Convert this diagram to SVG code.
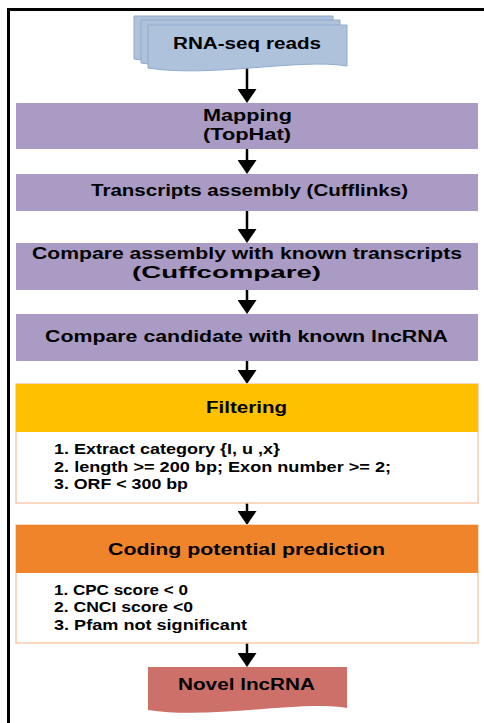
<svg xmlns="http://www.w3.org/2000/svg" width="484" height="723" viewBox="0 0 484 723">
<style>
.t{font-family:"Liberation Sans",Arial,sans-serif;font-weight:700;fill:#000;}
.h{font-size:16px;text-anchor:middle;}
.l{font-size:14px;}
.purple{fill:#A99BC3;}
.doc{fill:#AEC2DC;stroke:#8FAACE;stroke-width:1;}
.conn{stroke:#000;stroke-width:2.5;fill:none;}
</style>
<defs>
<marker id="ah" markerUnits="userSpaceOnUse" markerWidth="14" markerHeight="19" refX="6" refY="9.5" orient="auto">
<path d="M0,0 L14,9.5 L0,19 Z" fill="#000"/>
</marker>
</defs>
<rect width="484" height="723" fill="#fff"/>
<path d="M8.5,723 V9.5 H484" fill="none" stroke="#000" stroke-width="3"/>

<g id="connectors">
<line class="conn" x1="247" y1="67" x2="247" y2="95" marker-end="url(#ah)"/>
<line class="conn" x1="247" y1="149" x2="247" y2="166" marker-end="url(#ah)"/>
<line class="conn" x1="247" y1="211" x2="247" y2="235" marker-end="url(#ah)"/>
<line class="conn" x1="247" y1="290" x2="247" y2="306" marker-end="url(#ah)"/>
<line class="conn" x1="247" y1="361" x2="247" y2="376" marker-end="url(#ah)"/>
<line class="conn" x1="247" y1="503" x2="247" y2="517" marker-end="url(#ah)"/>
<line class="conn" x1="247" y1="643" x2="247" y2="659" marker-end="url(#ah)"/>
</g>

<g id="rnaseq">
<path class="doc" d="M134,16 H333 V57 C286,49 196,69 134,59 Z"/>
<path class="doc" d="M141,20 H340 V61 C293,53 203,73 141,63 Z"/>
<path class="doc" d="M148,25 H347 V66 C300,58 210,78 148,68 Z"/>
<text class="t h" x="247" y="49" textLength="148" lengthAdjust="spacingAndGlyphs">RNA-seq reads</text>
</g>

<g id="mapping">
<rect class="purple" x="16" y="103" width="462" height="46"/>
<text class="t h" x="247.5" y="121" textLength="89" lengthAdjust="spacingAndGlyphs">Mapping</text>
<text class="t h" x="247" y="140" textLength="88" lengthAdjust="spacingAndGlyphs">(TopHat)</text>
</g>

<g id="assembly">
<rect class="purple" x="16" y="174" width="462" height="37"/>
<text class="t h" x="249.5" y="196" textLength="317" lengthAdjust="spacingAndGlyphs">Transcripts assembly (Cufflinks)</text>
</g>

<g id="compare1">
<rect class="purple" x="16" y="243" width="462" height="47"/>
<text class="t h" x="247" y="259" textLength="430" lengthAdjust="spacingAndGlyphs">Compare assembly with known transcripts</text>
<text class="t h" x="226.5" y="278" textLength="189" lengthAdjust="spacingAndGlyphs">(Cuffcompare)</text>
</g>

<g id="compare2">
<rect class="purple" x="16" y="314" width="462" height="47"/>
<text class="t h" x="246.5" y="342" textLength="403" lengthAdjust="spacingAndGlyphs">Compare candidate with known lncRNA</text>
</g>

<g id="filtering">
<rect x="16" y="384" width="462" height="119" fill="#fff" stroke="#F8CBAD" stroke-width="1.5"/>
<rect x="16" y="384" width="462" height="48" fill="#FFC000"/>
<text class="t h" x="246.5" y="413" textLength="81" lengthAdjust="spacingAndGlyphs">Filtering</text>
<text class="t l" x="54" y="454" textLength="226" lengthAdjust="spacingAndGlyphs">1. Extract category {I, u ,x}</text>
<text class="t l" x="54" y="472" textLength="337" lengthAdjust="spacingAndGlyphs">2. length &gt;= 200 bp; Exon number &gt;= 2;</text>
<text class="t l" x="54" y="489" textLength="134" lengthAdjust="spacingAndGlyphs">3. ORF &lt; 300 bp</text>
</g>

<g id="coding">
<rect x="16" y="525" width="462" height="118" fill="#fff" stroke="#F8CBAD" stroke-width="1.5"/>
<rect x="16" y="525" width="462" height="48" fill="#F0842A"/>
<text class="t h" x="246.5" y="555" textLength="277" lengthAdjust="spacingAndGlyphs">Coding potential prediction</text>
<text class="t l" x="54" y="595" textLength="134" lengthAdjust="spacingAndGlyphs">1. CPC score &lt; 0</text>
<text class="t l" x="54" y="612" textLength="139" lengthAdjust="spacingAndGlyphs">2. CNCI score &lt;0</text>
<text class="t l" x="54" y="630" textLength="193" lengthAdjust="spacingAndGlyphs">3. Pfam not significant</text>
</g>

<g id="novel">
<path d="M148,667 H347 V708 C300,700 210,720 148,710 Z" fill="#CD706A"/>
<text class="t h" x="246.5" y="690" textLength="137" lengthAdjust="spacingAndGlyphs">Novel lncRNA</text>
</g>
</svg>
